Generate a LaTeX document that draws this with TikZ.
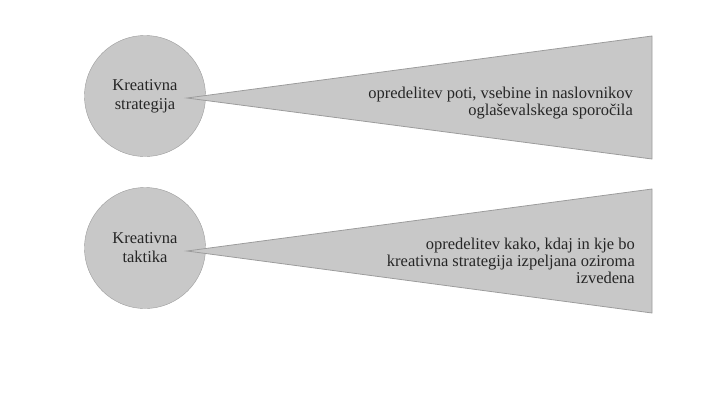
\documentclass[tikz,border=0pt]{standalone}
\usepackage{fontspec}
\setmainfont{Liberation Serif}
\usepackage{tikz}
\definecolor{shapefill}{HTML}{C8C8C8}
\definecolor{shapeline}{HTML}{9C9C9C}
\definecolor{textgray}{HTML}{262626}
\tikzset{
  topic/.style={circle, draw=shapeline, fill=shapefill, minimum size=121pt, inner sep=0pt,
    align=center, text=textgray, font=\fontsize{16.5}{19}\selectfont},
  wedge/.style={draw=shapeline, fill=shapefill, line width=0.8pt},
  note/.style={align=right, anchor=east, text=textgray, inner sep=0pt,
    font=\fontsize{16.5}{17}\selectfont}
}
\begin{document}
\begin{tikzpicture}[x=1pt, y=-1pt]
            \useasboundingbox (0,0) rectangle (725,416);

            % strategija
            \node[topic] (strat) at (145,96) {Kreativna\\strategija};
            \coordinate (stip) at (187,98);
            \coordinate (stop) at (652,36);
            \coordinate (sbot) at (652,159);
            \draw[wedge] (stip) -- (stop) -- (sbot) -- cycle;
            \node[note] (stext) at (633,103) {opredelitev poti, vsebine in naslovnikov\\oglaševalskega sporočila};

            % taktika
            \node[topic] (takt) at (145,248) {Kreativna\\taktika};
            \coordinate (ttip) at (187,251);
            \coordinate (ttop) at (652,189);
            \coordinate (tbot) at (652,313);
            \draw[wedge] (ttip) -- (ttop) -- (tbot) -- cycle;
            \node[note] (ttext) at (635,261) {opredelitev kako, kdaj in kje bo\\kreativna strategija izpeljana oziroma\\izvedena};
        \end{tikzpicture}
\end{document}
